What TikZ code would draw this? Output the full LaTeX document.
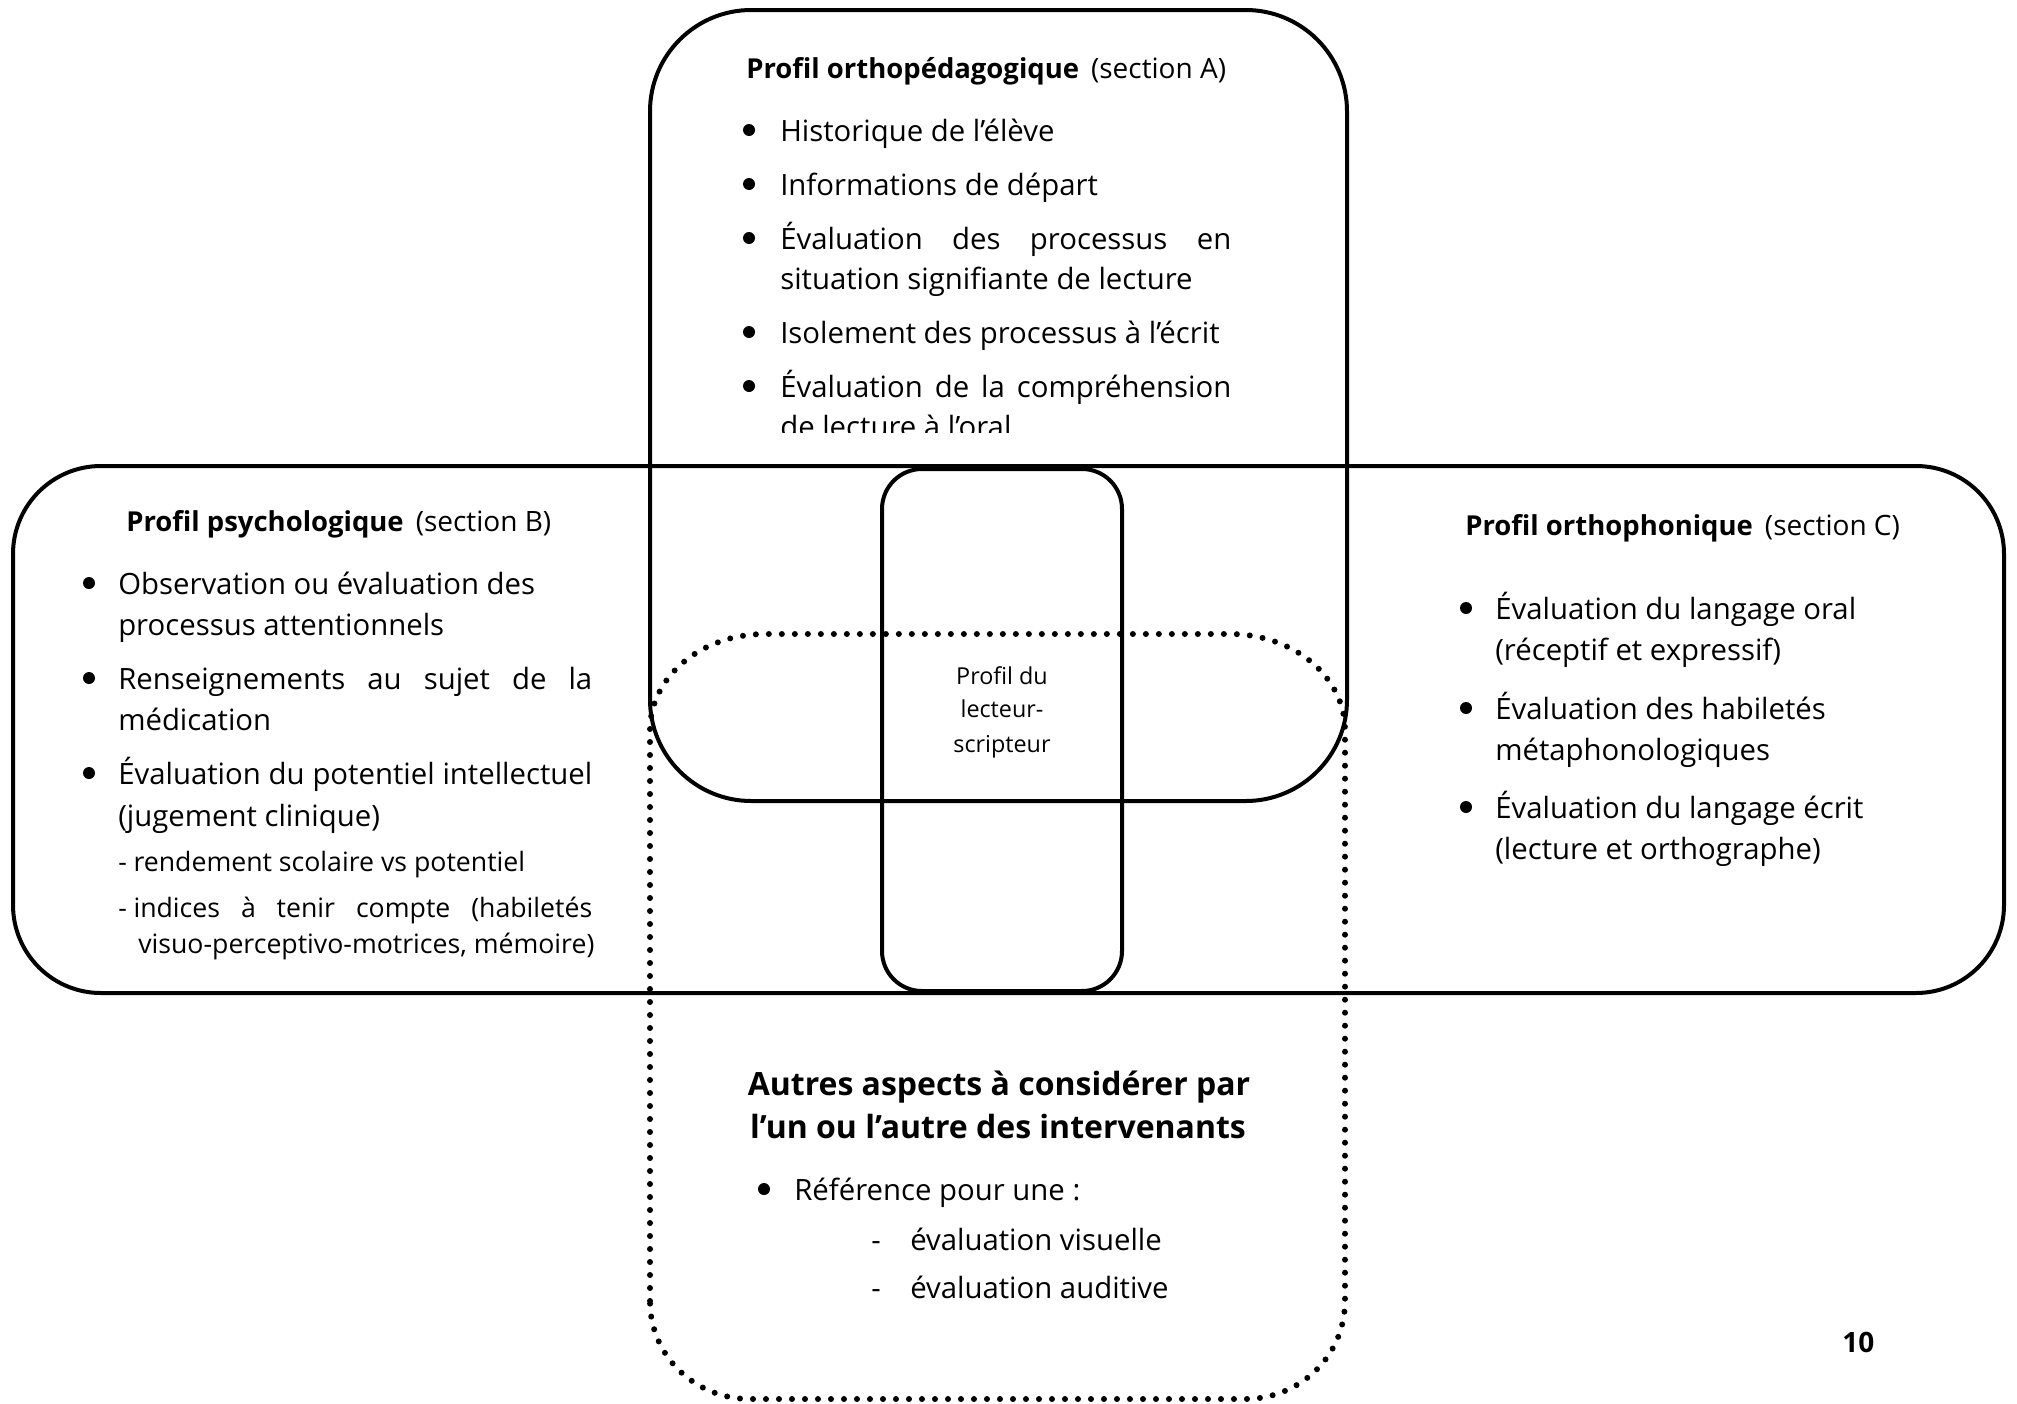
\documentclass[tikz,border=0pt]{standalone}
\usepackage{fontspec}
\setmainfont{Open Sans}
\newcommand\bodyf{\fontsize{22pt}{26pt}\selectfont}
\newcommand\subf{\fontsize{20pt}{24pt}\selectfont}
\newcommand\ttlf{\fontsize{20.6pt}{24pt}\selectfont\bfseries}
\newcommand\secf{\fontsize{21pt}{24pt}\selectfont}
\newcommand\midf{\fontsize{17.5pt}{21pt}\selectfont}
\newcommand\headf{\fontsize{24pt}{28pt}\selectfont\bfseries}
\newcommand\jline[2]{\makebox[#1][s]{#2}}
\newcommand\ttlgap{\hspace{9pt}}
\begin{document}
\begin{tikzpicture}[x=0.75pt,y=-0.75pt,
  outl/.style={draw, line width=3pt},
  dotline/.style={line width=4.5pt, line cap=round, dash pattern=on 0pt off 9.75pt},
  bul/.style={circle, fill, inner sep=0pt, minimum size=9pt},
  body/.style={anchor=base west, inner sep=0pt, font=\bodyf},
  subtxt/.style={anchor=base west, inner sep=0pt, font=\subf},
  ttl/.style={anchor=base west, inner sep=0pt},
  mid/.style={anchor=base, inner sep=0pt, font=\midf},
  head/.style={anchor=base, inner sep=0pt, font=\headf}]
\useasboundingbox (0,0) rectangle (2017,1403);
% shapes
\draw[outl, rounded corners=76pt] (650,10) rectangle (1347,801);
\draw[outl, rounded corners=66pt] (13,466) rectangle (2004,993);
\draw[outl, rounded corners=30pt] (882,469) rectangle (1122,991);
\draw[dotline] (650,1301) -- (650,730) .. controls (650,677) and (701,634) .. (765,634)
  -- (1230,634) .. controls (1294,634) and (1345,677) .. (1345,730)
  -- (1345,1301) .. controls (1345,1356) and (1300,1399) .. (1245,1399)
  -- (750,1399) .. controls (695,1399) and (650,1356) .. (650,1301) -- cycle;
% Box A
\node[ttl] (a0) at (746,78) {{\ttlf Profil orthopédagogique}\ttlgap{\secf (section A)}};
\node[bul] (a1b) at (749,130) {};
\node[body] (a1) at (780,141) {Historique de l’élève};
\node[bul] (a2b) at (749,184) {};
\node[body] (a2) at (780,195) {Informations de départ};
\node[bul] (a3b) at (749,238) {};
\node[body] (a3) at (780,249) {\jline{338.25pt}{Évaluation des processus en}};
\node[body] (a4) at (780,289) {situation signifiante de lecture};
\node[bul] (a5b) at (749,332) {};
\node[body] (a5) at (780,343) {Isolement des processus à l’écrit};
\node[bul] (a6b) at (749,386) {};
\node[body] (a6) at (780,397) {\jline{338.25pt}{Évaluation de la compréhension}};
\begin{scope}
\clip (640,0) rectangle (1360,432);
\node[body] (a7) at (780,437) {de lecture à l’oral};
\end{scope}
% Box B
\node[ttl] (b0) at (126,531) {{\ttlf Profil psychologique}\ttlgap{\secf (section B)}};
\node[bul] (b1b) at (89,583) {};
\node[body] (b1) at (118,594) {Observation ou évaluation des};
\node[body] (b2) at (118,635) {processus attentionnels};
\node[bul] (b3b) at (89,678) {};
\node[body] (b3) at (118,689) {\jline{355.5pt}{Renseignements au sujet de la}};
\node[body] (b4) at (118,730) {médication};
\node[bul] (b5b) at (89,773) {};
\node[body] (b5) at (118,784) {\jline{355.5pt}{Évaluation du potentiel intellectuel}};
\node[body] (b6) at (118,826) {(jugement clinique)};
\node[subtxt] (b7) at (118,871) {-\hspace{5pt}rendement scolaire vs potentiel};
\node[subtxt] (b8) at (118,917) {\jline{355.5pt}{-\hspace{5pt}indices à tenir compte (habiletés}};
\node[subtxt] (b9) at (138,953) {visuo-perceptivo-motrices, mémoire)};
% Box C
\node[ttl] (c0) at (1465,535) {{\ttlf Profil orthophonique}\ttlgap{\secf (section C)}};
\node[bul] (c1b) at (1466,608) {};
\node[body] (c1) at (1495,619) {Évaluation du langage oral};
\node[body] (c2) at (1495,660) {(réceptif et expressif)};
\node[bul] (c3b) at (1466,708) {};
\node[body] (c3) at (1495,719) {Évaluation des habiletés};
\node[body] (c4) at (1495,760) {métaphonologiques};
\node[bul] (c5b) at (1466,807) {};
\node[body] (c5) at (1495,818) {Évaluation du langage écrit};
\node[body] (c6) at (1495,859) {(lecture et orthographe)};
% centre
\node[mid] (m1) at (1002,684) {Profil du};
\node[mid] (m2) at (1002,717) {lecteur-};
\node[mid] (m3) at (1002,752) {scripteur};
% Box D
\node[head] (d1) at (999,1095) {Autres aspects à considérer par};
\node[head] (d2) at (998,1138) {l’un ou l’autre des intervenants};
\node[bul] (d3b) at (764,1189) {};
\node[body] (d3) at (794,1200) {Référence pour une :};
\node[body] (d4d) at (871,1250) {-};
\node[body] (d4) at (910,1250) {évaluation visuelle};
\node[body] (d5d) at (871,1298) {-};
\node[body] (d5) at (910,1298) {évaluation auditive};
% page number
\node[ttl, font=\fontsize{21pt}{24pt}\selectfont\bfseries] (pg) at (1842,1352) {10};
\end{tikzpicture}
\end{document}
